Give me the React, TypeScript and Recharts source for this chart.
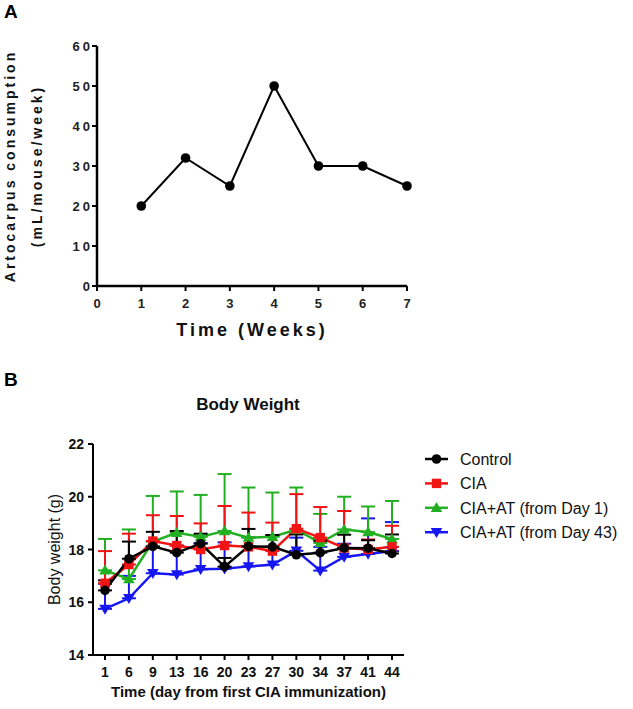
import React from 'react';
import { LineChart, Line, XAxis, YAxis, ErrorBar, Legend } from 'recharts';

// Panel A
const weeks = [1, 2, 3, 4, 5, 6, 7];
const consumption = [20, 32, 25, 50, 30, 30, 25];
const weekTicks = [0, 1, 2, 3, 4, 5, 6, 7];
const consumptionTicks = [0, 10, 20, 30, 40, 50, 60];

// Panel B
const days = ['1', '6', '9', '13', '16', '20', '23', '27', '30', '34', '37', '41', '44'];
const control = [16.45, 17.65, 18.12, 17.88, 18.22, 17.35, 18.12, 18.1, 17.8, 17.88, 18.06, 18.05, 17.85];
const controlSD = [0.38, 0.65, 0.55, 0.82, 0.38, 0.33, 0.66, 0.45, 0.77, 0.45, 0.5, 0.3, 0.72];
const cia = [16.72, 17.43, 18.32, 18.15, 18.0, 18.15, 18.1, 17.94, 18.79, 18.45, 18.06, 18.0, 18.1];
const ciaSD = [1.22, 1.17, 0.98, 1.12, 0.99, 1.5, 1.3, 1.08, 1.31, 1.16, 1.4, 0.38, 0.8];
const atDay1 = [17.21, 16.88, 18.3, 18.63, 18.48, 18.7, 18.45, 18.48, 18.75, 18.25, 18.76, 18.66, 18.4];
const atDay1SD = [1.19, 1.88, 1.73, 1.57, 1.59, 2.16, 1.9, 1.68, 1.6, 1.1, 1.24, 0.97, 1.44];
const atDay43 = [15.75, 16.15, 17.1, 17.05, 17.25, 17.27, 17.36, 17.42, 17.95, 17.2, 17.72, 17.83, 17.94];
const atDay43SD = [0.95, 0.85, 1.0, 1.1, 1.0, 1.0, 1.1, 1.1, 0.5, 0.9, 0.5, 1.35, 1.1];
const weightTicks = [14, 16, 18, 20, 22];
const seriesNames = ['Control', 'CIA', 'CIA+AT (from Day 1)', 'CIA+AT (from Day 43)'];

const FONT = '"Liberation Sans", Arial, sans-serif';

const dataA = weeks.map((w, i) => ({ week: w, value: consumption[i] }));
const dataB = days.map((d, i) => ({
  day: d,
  control: control[i], controlErr: [0, controlSD[i]],
  cia: cia[i], ciaErr: [0, ciaSD[i]],
  at1: atDay1[i], at1Err: [0, atDay1SD[i]],
  at43: atDay43[i], at43Err: [0, atDay43SD[i]],
}));

const BLACK = '#000000';
const RED = '#f01414';
const GREEN = '#22b022';
const BLUE = '#1616f0';

type MarkerKind = 'circle' | 'square' | 'up' | 'down';

const Marker = ({ kind, cx, cy, color }: { kind: MarkerKind; cx: number; cy: number; color: string }) => {
  if (kind === 'circle') return <circle cx={cx} cy={cy} r={4.8} fill={color} stroke="none" />;
  if (kind === 'square') return <rect x={cx - 4.7} y={cy - 4.7} width={9.4} height={9.4} fill={color} stroke="none" />;
  if (kind === 'up')
    return <polygon points={`${cx},${cy - 5.8} ${cx - 5.8},${cy + 4.2} ${cx + 5.8},${cy + 4.2}`} fill={color} stroke="none" />;
  return <polygon points={`${cx},${cy + 5.8} ${cx - 5.8},${cy - 4.2} ${cx + 5.8},${cy - 4.2}`} fill={color} stroke="none" />;
};

const dotFn = (kind: MarkerKind, color: string) => (p: any) => (
  <Marker key={`${kind}-${p.index}`} kind={kind} cx={p.cx} cy={p.cy} color={color} />
);

const seriesStyle: { key: string; err: string; color: string; kind: MarkerKind }[] = [
  { key: 'at43', err: 'at43Err', color: BLUE, kind: 'down' },
  { key: 'at1', err: 'at1Err', color: GREEN, kind: 'up' },
  { key: 'cia', err: 'ciaErr', color: RED, kind: 'square' },
  { key: 'control', err: 'controlErr', color: BLACK, kind: 'circle' },
];
const legendStyle: { color: string; kind: MarkerKind }[] = [
  { color: BLACK, kind: 'circle' },
  { color: RED, kind: 'square' },
  { color: GREEN, kind: 'up' },
  { color: BLUE, kind: 'down' },
];

const XTickA = (p: any) => (
  <text x={p.x + 1.5} y={p.y} dy="0.71em" textAnchor="middle" fontFamily={FONT} fontSize={13} fontWeight="bold" fill="#222" style={{ letterSpacing: '3px' }}>
    {p.payload.value}
  </text>
);
const YTickA = (p: any) => (
  <text x={p.x + 3} y={p.y} dy="0.36em" textAnchor="end" fontFamily={FONT} fontSize={13} fontWeight="bold" fill="#222" style={{ letterSpacing: '3px' }}>
    {p.payload.value}
  </text>
);
const XTickB = (p: any) => (
  <text x={p.x} y={p.y} dy="0.71em" textAnchor="middle" fontFamily={FONT} fontSize={14} fontWeight="bold" fill="#111">
    {p.payload.value}
  </text>
);
const YTickB = (p: any) => (
  <text x={p.x} y={p.y} dy="0.36em" textAnchor="end" fontFamily={FONT} fontSize={14} fontWeight="bold" fill="#111">
    {p.payload.value}
  </text>
);

const LegendB = () => (
  <svg width={215} height={100} style={{ display: 'block' }}>
    {seriesNames.map((name, i) => {
      const y = 12 + i * 24.4;
      const s = legendStyle[i];
      return (
        <g key={name}>
          <line x1={5} x2={28} y1={y} y2={y} stroke={s.color} strokeWidth={2.5} />
          <Marker kind={s.kind} cx={16.5} cy={y} color={s.color} />
          <text x={40} y={y} dy="0.36em" fontFamily={FONT} fontSize={16} fill="#111">{name}</text>
        </g>
      );
    })}
  </svg>
);

export default function App() {
  return (
    <div style={{ position: 'absolute', left: 0, top: 0, width: 633, height: 709, background: '#fff', fontFamily: FONT }}>
      <div style={{ position: 'absolute', left: 4, top: 1, fontSize: 19, fontWeight: 'bold', color: '#000' }}>A</div>
      <div style={{ position: 'absolute', left: 4, top: 369, fontSize: 19, fontWeight: 'bold', color: '#000' }}>B</div>
      <div style={{ position: 'absolute', left: 0, top: 0 }}>
        <LineChart width={633} height={360} data={dataA} margin={{ top: 46, right: 226, left: 0, bottom: 0 }}>
          <XAxis
            dataKey="week"
            type="number"
            domain={[0, 7]}
            ticks={weekTicks}
            allowDecimals={false}
            height={74}
            axisLine={{ stroke: '#000', strokeWidth: 2.5 }}
            tickLine={{ stroke: '#000', strokeWidth: 2 }}
            tickSize={5}
            tickMargin={8}
            tick={XTickA}
            label={{
              content: ({ viewBox }: any) => (
                <text x={viewBox.x + viewBox.width / 2} y={viewBox.y + 50} textAnchor="middle" fontFamily={FONT} fontSize={18} fontWeight="bold" fill="#111" style={{ letterSpacing: '3px' }}>
                  Time (Weeks)
                </text>
              ),
            }}
          />
          <YAxis
            type="number"
            domain={[0, 60]}
            ticks={consumptionTicks}
            width={97}
            axisLine={{ stroke: '#000', strokeWidth: 2.5 }}
            tickLine={{ stroke: '#000', strokeWidth: 2 }}
            tickSize={5}
            tickMargin={2}
            tick={YTickA}
            label={{
              content: ({ viewBox }: any) => {
                const cy = viewBox.y + viewBox.height / 2;
                return (
                  <g>
                    <text x={10} y={cy} transform={`rotate(-90 10 ${cy})`} textAnchor="middle" dominantBaseline="central" fontFamily={FONT} fontSize={14} fontWeight="bold" fill="#111" style={{ letterSpacing: '3px' }}>
                      Artocarpus consumption
                    </text>
                    <text x={37} y={cy} transform={`rotate(-90 37 ${cy})`} textAnchor="middle" dominantBaseline="central" fontFamily={FONT} fontSize={14} fontWeight="bold" fill="#111" style={{ letterSpacing: '3px' }}>
                      (mL/mouse/week)
                    </text>
                  </g>
                );
              },
            }}
          />
          <Line
            dataKey="value"
            stroke="#000"
            strokeWidth={2}
            isAnimationActive={false}
            dot={dotFn('circle', '#000')}
            activeDot={false}
          />
        </LineChart>
      </div>
      <div style={{ position: 'absolute', left: 0, top: 395, width: 500, textAlign: 'center', fontSize: 17, fontWeight: 'bold', color: '#111' }}>
        <span style={{ position: 'absolute', left: 248, transform: 'translateX(-50%)', whiteSpace: 'nowrap' }}>Body Weight</span>
      </div>
      <div style={{ position: 'absolute', left: 0, top: 380 }}>
        <LineChart width={633} height={329} data={dataB} margin={{ top: 64, right: 229, left: 0, bottom: 0 }}>
          <XAxis
            dataKey="day"
            type="category"
            height={54}
            padding={{ left: 12, right: 12 }}
            axisLine={{ stroke: '#000', strokeWidth: 2 }}
            tickLine={{ stroke: '#000', strokeWidth: 2 }}
            tickSize={5}
            tickMargin={7}
            tick={XTickB}
            interval={0}
            label={{
              content: ({ viewBox }: any) => (
                <text x={viewBox.x + viewBox.width / 2} y={viewBox.y + 42} textAnchor="middle" fontFamily={FONT} fontSize={15} fontWeight="bold" fill="#111">
                  Time (day from first CIA immunization)
                </text>
              ),
            }}
          />
          <YAxis
            type="number"
            domain={[14, 22]}
            ticks={weightTicks}
            width={93}
            allowDataOverflow
            axisLine={{ stroke: '#000', strokeWidth: 2 }}
            tickLine={{ stroke: '#000', strokeWidth: 2 }}
            tickSize={5}
            tickMargin={4}
            tick={YTickB}
            label={{
              content: ({ viewBox }: any) => {
                const cy = viewBox.y + viewBox.height / 2;
                return (
                  <text x={54} y={cy} transform={`rotate(-90 54 ${cy})`} textAnchor="middle" dominantBaseline="central" fontFamily={FONT} fontSize={16} fill="#111">
                    Body weight (g)
                  </text>
                );
              },
            }}
          />
          <Legend
            layout="vertical"
            align="center"
            verticalAlign="middle"
            wrapperStyle={{ left: 420, top: 67, width: 215 }}
            content={() => <LegendB />}
          />
          {seriesStyle.map((s) => (
            <Line
              key={s.key}
              dataKey={s.key}
              stroke={s.color}
              strokeWidth={2.5}
              isAnimationActive={false}
              dot={dotFn(s.kind, s.color)}
              activeDot={false}
            >
              <ErrorBar dataKey={s.err} direction="y" width={7} stroke={s.color} strokeWidth={2} isAnimationActive={false} />
            </Line>
          ))}
        </LineChart>
      </div>
    </div>
  );
}
